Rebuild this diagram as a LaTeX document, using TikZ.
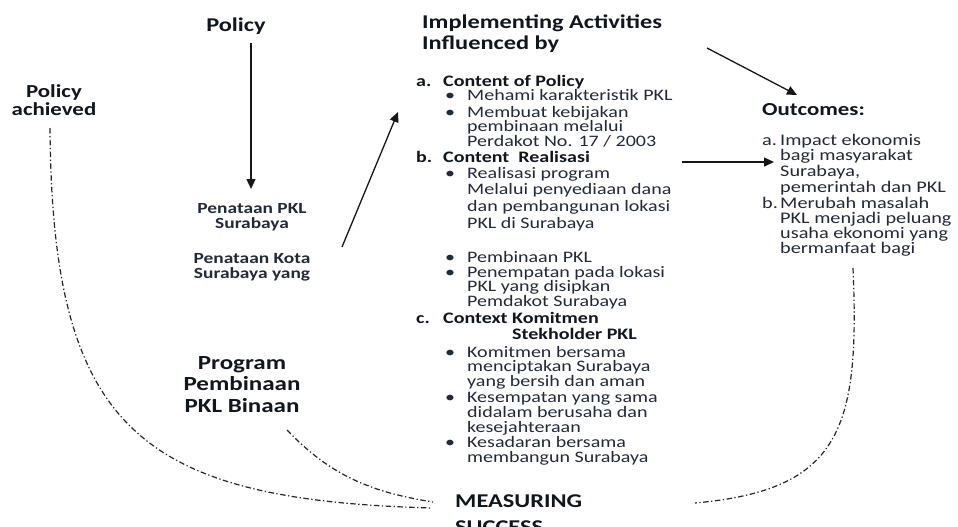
\documentclass[tikz,border=0pt]{standalone}
\usepackage{fontspec}
\setmainfont{Carlito}[FakeStretch=1.25]
\usetikzlibrary{arrows.meta}
\definecolor{headc}{HTML}{11161D}
\definecolor{bodyc}{HTML}{222A37}
\definecolor{flowc}{HTML}{161616}
\definecolor{dashc}{HTML}{262626}
% bullet hung to the left of an item's text
\newcommand\bul{\llap{\textbullet\hspace{12pt}}}
% list label hung to the left of an item's text
\newcommand\hanglabel[2]{\llap{\makebox[#1][l]{#2}}}

\begin{document}
% multi-line nodes are placed by the baseline of their last line
\begin{tikzpicture}[x=1pt,y=-1pt,
  title/.style={font=\fontsize{19.5}{21}\selectfont\bfseries, text=headc, inner sep=0pt},
  label/.style={font=\fontsize{15.5}{15}\selectfont\bfseries, text=bodyc, inner sep=0pt, align=center, anchor=base},
  sub/.style={font=\fontsize{16}{16}\selectfont\bfseries, text=headc, inner sep=0pt, anchor=base west, align=left},
  body/.style={font=\fontsize{16}{15}\selectfont, text=bodyc, inner sep=0pt, anchor=base west, align=left},
  arr/.style={draw=flowc, line width=1.3pt, -{Triangle[length=10pt,width=9pt]}},
  dashdot/.style={draw=dashc, line width=1.2pt, dash pattern=on 5.5pt off 2.5pt on 1.3pt off 2.5pt}]

\useasboundingbox[fill=white] (0,0) rectangle (958,527);

% ---------- left column ----------
\node[title, anchor=base] (policy) at (236,32) {Policy};
\node[title, font=\fontsize{18.3}{18}\selectfont\bfseries, align=center, anchor=base] (achieved) at (54,115) {Policy\\achieved};
\node[label] (pkl) at (252,228) {Penataan PKL\\Surabaya};
\node[label] (kota) at (252,278) {Penataan Kota\\Surabaya yang};
\node[title, font=\fontsize{20}{21.5}\selectfont\bfseries, align=center, anchor=base] (program) at (242,412) {Program\\Pembinaan\\PKL Binaan};

% ---------- middle column ----------
\node[title, align=left, anchor=base west] (impl) at (422,50) {Implementing Activities\\Influenced by};

\node[sub] (ca) at (443,86) {\hanglabel{27pt}{a.}Content of Policy};
\node[body] (ca1) at (467,100) {\bul Mehami karakteristik PKL};
\node[body, font=\fontsize{16}{14.6}\selectfont] (ca2) at (467,146.2) {\bul Membuat kebijakan\\pembinaan melalui\\Perdakot No. 17 / 2003};

\node[sub] (cb) at (443,162) {\hanglabel{27pt}{b.}Content\ \ Realisasi};
\node[body, font=\fontsize{16}{16.7}\selectfont] (cb1) at (467,228.1) {\bul Realisasi program\\Melalui penyediaan dana\\dan pembangunan lokasi\\PKL di Surabaya};
\node[body] (cb2) at (467,262) {\bul Pembinaan PKL};
\node[body, font=\fontsize{16}{14.6}\selectfont] (cb3) at (467,306.2) {\bul Penempatan pada lokasi\\PKL yang disipkan\\Pemdakot Surabaya};

\node[sub] (cc) at (443,323) {\hanglabel{27pt}{c.}Context Komitmen};
\node[sub] (ccs) at (512,339) {Stekholder PKL};
\node[body, font=\fontsize{16}{14.6}\selectfont] (cc1) at (467,386.2) {\bul Komitmen bersama\\menciptakan Surabaya\\yang bersih dan aman};
\node[body] (cc2) at (467,432) {\bul Kesempatan yang sama\\didalam berusaha dan\\kesejahteraan};
\node[body] (cc3) at (467,462) {\bul Kesadaran bersama\\membangun Surabaya};

\node[title, align=left, anchor=base west, font=\fontsize{19.5}{26}\selectfont\bfseries] (measure) at (455,533) {MEASURING\\SUCCESS};

% ---------- right column ----------
\node[title, font=\fontsize{18.3}{18}\selectfont\bfseries, anchor=base west] (outc) at (762,115) {Outcomes:};
\node[body, font=\fontsize{16.2}{15.7}\selectfont] (oa) at (780,192.1) {\hanglabel{18pt}{a.}Impact ekonomis\\bagi masyarakat\\Surabaya,\\pemerintah dan PKL};
\node[body, font=\fontsize{16.2}{15}\selectfont] (ob) at (780,253) {\hanglabel{18pt}{b.}Merubah masalah\\PKL menjadi peluang\\usaha ekonomi yang\\bermanfaat bagi};

% ---------- connector ends ----------
\coordinate (policyTail) at (251,43);
\coordinate (pklHead) at (251,189);
\coordinate (kotaTail) at (342,247);
\coordinate (caHead) at (398,112);
\coordinate (implTail) at (707,48);
\coordinate (outcHead) at (797,95);
\coordinate (cbTail) at (682,162);
\coordinate (oaHead) at (774,162);
\coordinate (achievedFoot) at (50,128);
\coordinate (programFoot) at (287,430);
\coordinate (obFoot) at (853,268);
\coordinate (measureLeftA) at (432,508);
\coordinate (measureLeftB) at (433,502);
\coordinate (measureRight) at (695,503);

% ---------- arrows ----------
\draw[arr] (policyTail) -- (pklHead);
\draw[arr] (kotaTail) -- (caHead);
\draw[arr] (implTail) -- (outcHead);
\draw[arr] (cbTail) -- (oaHead);

% ---------- feedback curves to MEASURING SUCCESS ----------
\draw[dashdot] (achievedFoot) .. controls (52,430) and (140,500) .. (measureLeftA);
\draw[dashdot] (programFoot) .. controls (330,475) and (370,492) .. (measureLeftB);
\draw[dashdot] (obFoot) .. controls (860,430) and (840,490) .. (measureRight);
\end{tikzpicture}
\end{document}
